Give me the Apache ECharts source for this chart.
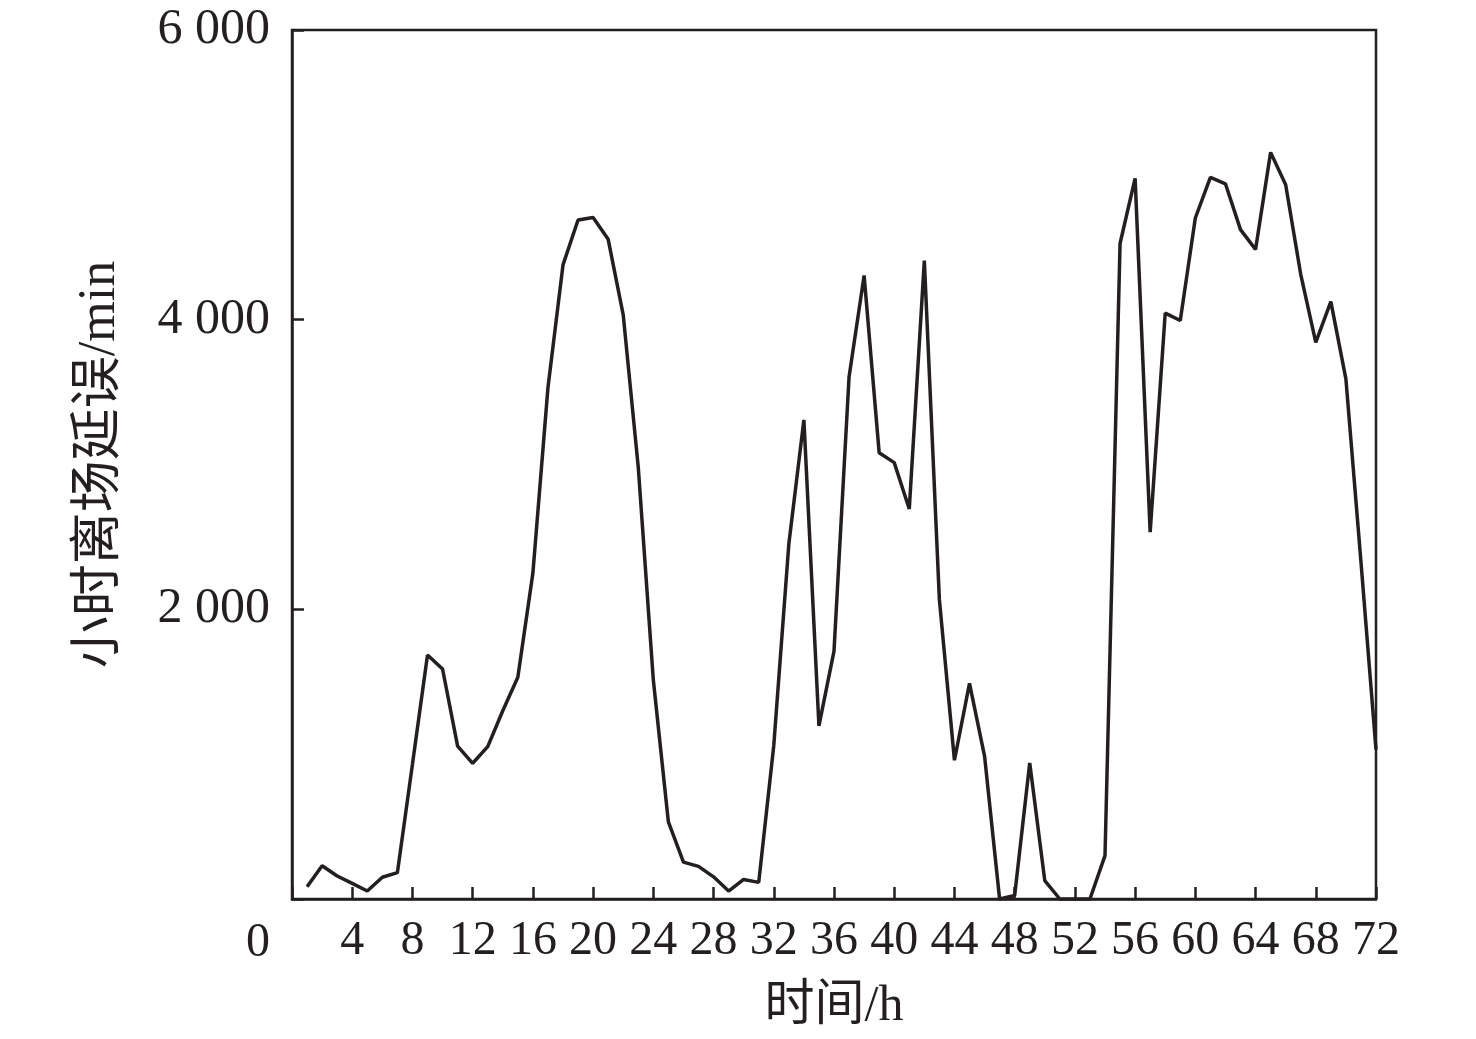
<!DOCTYPE html>
<html>
<head>
<meta charset="utf-8">
<script src="https://cdn.jsdelivr.net/npm/echarts@6/dist/echarts.min.js"></script>
<style>html,body{margin:0;padding:0;background:#fff}#c{width:1476px;height:1039px}</style>
</head>
<body>
<div id="c"></div>
<script>
const hours = [1,2,3,4,5,6,7,8,9,10,11,12,13,14,15,16,17,18,19,20,21,22,23,24,25,26,27,28,29,30,31,32,33,34,35,36,37,38,39,40,41,42,43,44,45,46,47,48,49,50,51,52,53,54,55,56,57,58,59,60,61,62,63,64,65,66,67,68,69,70,71,72];
const delay = [85,230,159,108,55,150,182,930,1685,1588,1056,937,1052,1300,1531,2250,3530,4378,4688,4705,4555,4033,2980,1512,532,255,225,153,55,135,115,1060,2451,3308,1195,1712,3604,4305,3081,3013,2693,4408,2067,958,1489,987,0,24,940,127,0,0,0,299,4526,4976,2533,4045,3994,4702,4983,4938,4622,4485,5155,4932,4313,3843,4124,3591,2330,1031];
const xTicks = [0,4,8,12,16,20,24,28,32,36,40,44,48,52,56,60,64,68,72];
const yTicks = [0,2000,4000,6000];
const xTitle = '时间/h';
const yTitle = '小时离场延误/min';

const FONT = '"Liberation Serif", "Noto Sans CJK SC", serif';
const INK = '#231f20';
const chart = echarts.init(document.getElementById('c'), null, {renderer: 'canvas'});
chart.setOption({
  backgroundColor: '#fff',
  animation: false,
  grid: {left: 292, right: 100, top: 30, bottom: 140, show: true, borderColor: INK, borderWidth: 2.5, backgroundColor: 'transparent'},
  xAxis: {
    type: 'value', min: 0, max: 72, interval: 4,
    name: xTitle, nameLocation: 'middle', nameGap: 83,
    nameTextStyle: {fontFamily: FONT, fontSize: 50, color: INK},
    axisLine: {show: true, lineStyle: {color: INK, width: 2.5}},
    axisTick: {show: true, inside: true, length: 12, lineStyle: {color: INK, width: 2.5}},
    splitLine: {show: false},
    axisLabel: {
      margin: 18, fontFamily: FONT, fontSize: 48, color: INK,
      formatter: v => (xTicks.indexOf(v) >= 0 && v !== 0) ? String(v) : ''
    }
  },
  yAxis: {
    type: 'value', min: 0, max: 6000, interval: 2000,
    name: yTitle, nameLocation: 'middle', nameGap: 166, nameRotate: 90,
    nameTextStyle: {fontFamily: FONT, fontSize: 52, color: INK},
    axisLine: {show: true, lineStyle: {color: INK, width: 2.5}},
    axisTick: {show: true, inside: true, length: 12, lineStyle: {color: INK, width: 2.5}},
    splitLine: {show: false},
    axisLabel: {
      margin: 22, fontFamily: FONT, fontSize: 50, color: INK,
      formatter: v => {
        if (yTicks.indexOf(v) < 0) return '';
        if (v === 0) return '{z|0}';
        const s = String(v);
        return s.length > 3 ? s.slice(0, s.length - 3) + ' ' + s.slice(-3) : s;
      },
      rich: {z: {fontFamily: FONT, fontSize: 48, color: INK, padding: [88, 0, 0, 0]}}
    }
  },
  series: [{
    type: 'line',
    data: hours.map((h, i) => [h, delay[i]]),
    showSymbol: false, symbol: 'none',
    lineStyle: {color: INK, width: 3.5},
    clip: false
  }]
});
</script>
</body>
</html>
